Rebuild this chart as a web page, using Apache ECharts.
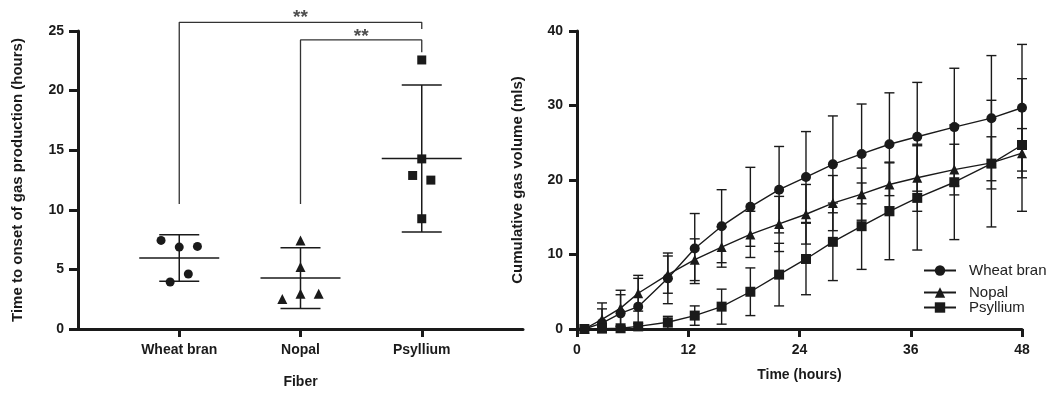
<!DOCTYPE html>
<html><head><meta charset="utf-8">
<script src="https://cdn.jsdelivr.net/npm/echarts@6/dist/echarts.min.js"></script>
<style>html,body{margin:0;padding:0;background:#fff}#c{width:1055px;height:400px}</style>
</head><body><div id="c"></div>
<script>
// ---------- Left panel data ----------
const fibers = ['Wheat bran', 'Nopal', 'Psyllium'];
const wheatOnset = [7.43, 6.87, 6.93, 4.61, 3.94];
const wheatJitter = [-0.15, 0, 0.15, 0.075, -0.075];
const nopalOnset = [7.43, 5.2, 2.51, 2.96, 2.96];
const nopalJitter = [0, 0, -0.15, 0, 0.15];
const psylliumOnset = [22.57, 14.27, 12.88, 12.49, 9.25];
const psylliumJitter = [0, 0, -0.075, 0.075, 0];
const onsetMean = [5.95, 4.27, 14.3];
const onsetSD = [1.95, 2.55, 6.16];
const onsetTicks = [0, 5, 10, 15, 20, 25];
const bracketWide = [[0, 10.48], [0, 25.73], [2, 25.73], [2, 25.17]];
const bracketNarrow = [[1, 10.48], [1, 24.25], [2, 24.25], [2, 23.22]];
const starMarks = [[1.0, 26.55], [1.5, 24.95]];
const starText = '**';

// ---------- Right panel data ----------
const hours = [0.8, 2.7, 4.7, 6.6, 9.8, 12.7, 15.6, 18.7, 21.8, 24.7, 27.6, 30.7, 33.7, 36.7, 40.7, 44.7, 48];
const wheatGas = [0, 0.8, 2.1, 3.0, 6.8, 10.8, 13.8, 16.4, 18.7, 20.4, 22.1, 23.5, 24.8, 25.8, 27.1, 28.3, 29.7];
const wheatGasSD = [0, 1.9, 2.5, 3.8, 3.4, 4.7, 4.9, 5.3, 5.8, 6.1, 6.5, 6.7, 6.9, 7.3, 7.9, 8.4, 8.5];
const nopalGas = [0, 1.3, 2.8, 4.8, 7.3, 9.3, 11.0, 12.7, 14.1, 15.4, 16.9, 18.1, 19.4, 20.3, 21.4, 22.3, 23.6];
const nopalGasSD = [0, 2.2, 2.4, 2.4, 2.5, 2.8, 2.7, 3.1, 3.7, 4.0, 3.7, 3.5, 3.0, 4.5, 3.4, 3.5, 3.3];
const psylliumGas = [0, 0.05, 0.1, 0.35, 0.9, 1.8, 3.0, 5.0, 7.3, 9.4, 11.7, 13.8, 15.8, 17.6, 19.7, 22.2, 24.7];
const psylliumGasSD = [0, 0.3, 0.2, 0.4, 0.8, 1.3, 2.35, 3.2, 4.2, 4.8, 5.2, 5.8, 6.5, 7.0, 7.7, 8.5, 8.9];
const hourTicks = [0, 12, 24, 36, 48];
const gasTicks = [0, 10, 20, 30, 40];

// ---------- styles ----------
const FONT = "'Liberation Sans', Arial, sans-serif";
const INK = '#1a1a1a';
const axisLine = { show: true, onZero: false, lineStyle: { color: INK, width: 3 } };
const tickLbl = { color: INK, fontFamily: FONT, fontWeight: 'bold', fontSize: 14 };
const xNameStyle = { color: INK, fontFamily: FONT, fontWeight: 'bold', fontSize: 14 };
const yNameStyle = { color: INK, fontFamily: FONT, fontWeight: 'bold', fontSize: 15 };

function leftErr(params, api) {
  const x = api.value(0), m = api.value(1), s = api.value(2);
  const c = api.coord([x, m]), t = api.coord([x, m + s]), b = api.coord([x, m - s]);
  const st = { stroke: INK, lineWidth: 1.5 };
  return { type: 'group', children: [
    { type: 'line', shape: { x1: c[0] - 40, y1: c[1], x2: c[0] + 40, y2: c[1] }, style: st },
    { type: 'line', shape: { x1: t[0], y1: t[1], x2: b[0], y2: b[1] }, style: st },
    { type: 'line', shape: { x1: t[0] - 20, y1: t[1], x2: t[0] + 20, y2: t[1] }, style: st },
    { type: 'line', shape: { x1: b[0] - 20, y1: b[1], x2: b[0] + 20, y2: b[1] }, style: st }
  ]};
}
function rightErr(params, api) {
  const x = api.value(0), m = api.value(1), s = api.value(2);
  if (!s) return null;
  const lo = Math.max(0, m - s);
  const t = api.coord([x, m + s]), b = api.coord([x, lo]);
  const st = { stroke: INK, lineWidth: 1.4 };
  const ch = [
    { type: 'line', shape: { x1: t[0], y1: t[1], x2: b[0], y2: b[1] }, style: st },
    { type: 'line', shape: { x1: t[0] - 5, y1: t[1], x2: t[0] + 5, y2: t[1] }, style: st }
  ];
  if (m - s > 0) ch.push({ type: 'line', shape: { x1: b[0] - 5, y1: b[1], x2: b[0] + 5, y2: b[1] }, style: st });
  return { type: 'group', children: ch };
}
const pts = (vals, jit, i) => vals.map((v, k) => [i + jit[k], v]);
const xy = (xs, ys) => xs.map((x, k) => [x, ys[k]]);
const xys = (xs, ys, ss) => xs.map((x, k) => [x, ys[k], ss[k]]);

const legendBase = {
  orient: 'vertical', left: 918, itemWidth: 32, itemHeight: 13, itemGap: 0,
  textStyle: { color: '#222', fontFamily: FONT, fontSize: 15, padding: [0, 0, 0, 8] },
  selectedMode: false
};

const option = {
  animation: false,
  backgroundColor: '#fff',
  grid: [
    { left: 78, top: 31, width: 445, height: 298 },
    { left: 577, top: 31, width: 445, height: 298 }
  ],
  xAxis: [
    { gridIndex: 0, type: 'value', min: -0.835, max: 2.835, axisLine,
      axisTick: { show: true, length: 8, lineStyle: { color: INK, width: 3 }, customValues: [0, 1, 2] },
      axisLabel: Object.assign({ margin: 14, customValues: [0, 1, 2], formatter: v => fibers[Math.round(v)] }, tickLbl),
      splitLine: { show: false },
      name: 'Fiber', nameLocation: 'middle', nameGap: 46, nameTextStyle: xNameStyle },
    { gridIndex: 1, type: 'value', min: 0, max: 48, interval: 12, axisLine,
      axisTick: { show: true, length: 8, lineStyle: { color: INK, width: 3 }, customValues: hourTicks },
      axisLabel: Object.assign({ margin: 14, customValues: hourTicks }, tickLbl),
      splitLine: { show: false },
      name: 'Time (hours)', nameLocation: 'middle', nameGap: 39, nameTextStyle: xNameStyle }
  ],
  yAxis: [
    { gridIndex: 0, type: 'value', min: 0, max: 25, interval: 5, axisLine,
      axisTick: { show: true, length: 9, lineStyle: { color: INK, width: 3 }, customValues: onsetTicks },
      axisLabel: Object.assign({ margin: 14, customValues: onsetTicks }, tickLbl),
      splitLine: { show: false },
      name: 'Time to onset of gas production (hours)', nameLocation: 'middle', nameGap: 53, nameTextStyle: yNameStyle },
    { gridIndex: 1, type: 'value', min: 0, max: 40, interval: 10, axisLine,
      axisTick: { show: true, length: 8, lineStyle: { color: INK, width: 3 }, customValues: gasTicks },
      axisLabel: Object.assign({ margin: 14, customValues: gasTicks }, tickLbl),
      splitLine: { show: false },
      name: 'Cumulative gas volume (mls)', nameLocation: 'middle', nameGap: 52, nameTextStyle: yNameStyle }
  ],
  legend: [
    Object.assign({}, legendBase, { top: 258, data: ['Wheat bran'] }),
    Object.assign({}, legendBase, { top: 280, data: ['Nopal'] }),
    Object.assign({}, legendBase, { top: 295, data: ['Psyllium'] })
  ],
  series: [
    { type: 'custom', name: 'onset error', xAxisIndex: 0, yAxisIndex: 0, renderItem: leftErr,
      encode: { x: 0, y: 1 }, data: xys([0, 1, 2], onsetMean, onsetSD), z: 2 },
    { type: 'scatter', name: 'wb pts', xAxisIndex: 0, yAxisIndex: 0, symbol: 'circle', symbolSize: 9,
      itemStyle: { color: INK, opacity: 1 }, data: pts(wheatOnset, wheatJitter, 0), z: 3 },
    { type: 'scatter', name: 'np pts', xAxisIndex: 0, yAxisIndex: 0, symbol: 'triangle', symbolSize: 10,
      itemStyle: { color: INK, opacity: 1 }, data: pts(nopalOnset, nopalJitter, 1), z: 3 },
    { type: 'scatter', name: 'ps pts', xAxisIndex: 0, yAxisIndex: 0, symbol: 'rect', symbolSize: 9,
      itemStyle: { color: INK, opacity: 1 }, data: pts(psylliumOnset, psylliumJitter, 2), z: 3 },
    { type: 'line', name: 'bracket1', xAxisIndex: 0, yAxisIndex: 0, clip: false, showSymbol: false, symbol: 'none',
      lineStyle: { color: '#333', width: 1.3 }, data: bracketWide, silent: true },
    { type: 'line', name: 'bracket2', xAxisIndex: 0, yAxisIndex: 0, clip: false, showSymbol: false, symbol: 'none',
      lineStyle: { color: '#333', width: 1.3 }, data: bracketNarrow, silent: true },
    { type: 'scatter', name: 'stars', xAxisIndex: 0, yAxisIndex: 0, clip: false, symbolSize: 0,
      label: { show: true, position: 'inside', offset: [0, 5], formatter: starText, color: '#222',
               fontFamily: FONT, fontWeight: 'bold', fontSize: 19 },
      data: starMarks, silent: true },

    { type: 'custom', name: 'wb err', xAxisIndex: 1, yAxisIndex: 1, renderItem: rightErr,
      encode: { x: 0, y: 1 }, data: xys(hours, wheatGas, wheatGasSD), z: 2 },
    { type: 'custom', name: 'np err', xAxisIndex: 1, yAxisIndex: 1, renderItem: rightErr,
      encode: { x: 0, y: 1 }, data: xys(hours, nopalGas, nopalGasSD), z: 2 },
    { type: 'custom', name: 'ps err', xAxisIndex: 1, yAxisIndex: 1, renderItem: rightErr,
      encode: { x: 0, y: 1 }, data: xys(hours, psylliumGas, psylliumGasSD), z: 2 },
    { type: 'line', name: 'Wheat bran', xAxisIndex: 1, yAxisIndex: 1, symbol: 'circle', symbolSize: 10, showAllSymbol: true,
      itemStyle: { color: INK }, lineStyle: { color: INK, width: 1.4 }, data: xy(hours, wheatGas), z: 3 },
    { type: 'line', name: 'Nopal', xAxisIndex: 1, yAxisIndex: 1, symbol: 'triangle', symbolSize: 10, showAllSymbol: true,
      itemStyle: { color: INK }, lineStyle: { color: INK, width: 1.4 }, data: xy(hours, nopalGas), z: 3 },
    { type: 'line', name: 'Psyllium', xAxisIndex: 1, yAxisIndex: 1, symbol: 'rect', symbolSize: 10, showAllSymbol: true,
      itemStyle: { color: INK }, lineStyle: { color: INK, width: 1.4 }, data: xy(hours, psylliumGas), z: 3 }
  ]
};
const chart = echarts.init(document.getElementById('c'), null, { renderer: 'canvas' });
chart.setOption(option);
</script>
</body></html>
